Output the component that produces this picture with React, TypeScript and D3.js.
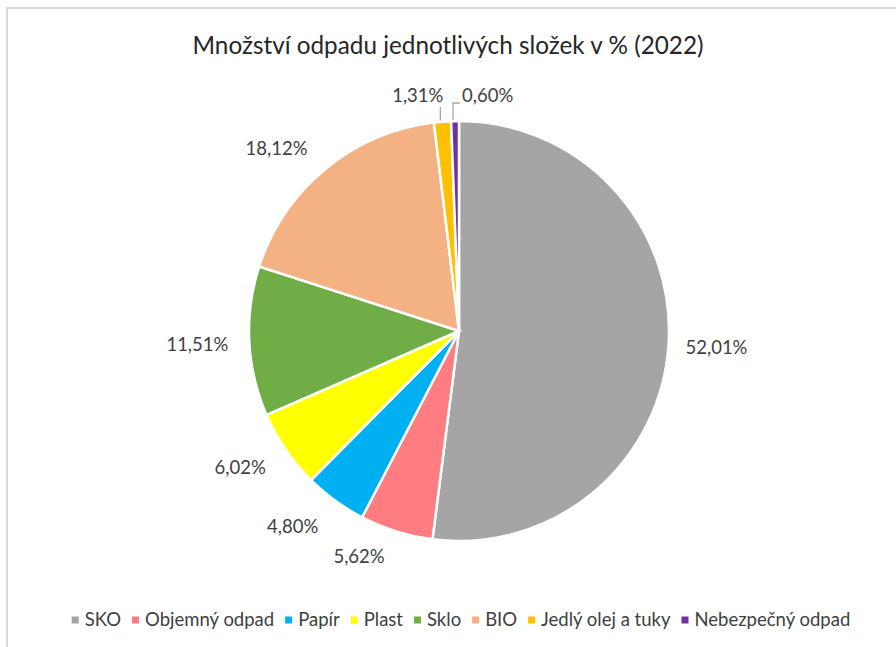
import React, { useEffect, useRef } from 'react';
import * as d3 from 'd3';

const W = 896;
const H = 647;

const categories = ['SKO', 'Objemný odpad', 'Papír', 'Plast', 'Sklo', 'BIO', 'Jedlý olej a tuky', 'Nebezpečný odpad'];
const shares = [52.01, 5.62, 4.8, 6.02, 11.51, 18.12, 1.31, 0.6];
const labels = ['52,01%', '5,62%', '4,80%', '6,02%', '11,51%', '18,12%', '1,31%', '0,60%'];
const colors = ['#a5a5a5', '#ff7c80', '#00b0f0', '#ffff00', '#70ad47', '#f4b183', '#ffc000', '#7030a0'];

// label placement tweaks (degrees shift, distance from centre) to match Excel's layout
const labelShift = [0, 6.5, 4.2, 2.4, -0.2, -5.5, 0, 0];
const labelDist = [258, 247, 257, 258, 262, 258, 0, 0];

const FONT = 'Lato, "Open Sans", sans-serif';

export default function App() {
  const ref = useRef<SVGSVGElement>(null);

  useEffect(() => {
    const svg = d3.select(ref.current);
    svg.selectAll('*').remove();

    // frame
    svg.append('rect')
      .attr('x', 7).attr('y', 8)
      .attr('width', W + 20).attr('height', H + 20)
      .attr('fill', 'white')
      .attr('stroke', '#d9d9d9')
      .attr('stroke-width', 2);

    svg.append('text')
      .attr('x', 448).attr('y', 45)
      .attr('dy', '0.35em')
      .attr('text-anchor', 'middle')
      .attr('font-family', FONT)
      .attr('font-size', 24.3)
      .attr('fill', '#262626')
      .text('Množství odpadu jednotlivých složek v % (2022)');

    const cx = 459, cy = 331, r = 210;
    const data = categories.map((c, i) => ({ c, v: shares[i], i }));
    const pie = d3.pie<any>().sort(null).value(d => d.v);
    const arcs = pie(data);
    const arc = d3.arc<any>().innerRadius(0).outerRadius(r);

    const g = svg.append('g').attr('transform', `translate(${cx},${cy})`);
    g.selectAll('path')
      .data(arcs)
      .enter()
      .append('path')
      .attr('d', arc)
      .attr('fill', d => colors[d.data.i])
      .attr('stroke', 'white')
      .attr('stroke-width', 2.5);

    // labels
    arcs.forEach(a => {
      const i = a.data.i;
      const mid = (a.startAngle + a.endAngle) / 2;
      if (labelDist[i] > 0) {
        const ang = mid + (labelShift[i] * Math.PI) / 180;
        const d = labelDist[i];
        g.append('text')
          .attr('x', Math.sin(ang) * d)
          .attr('y', -Math.cos(ang) * d)
          .attr('dy', '0.35em')
          .attr('text-anchor', 'middle')
          .attr('font-family', FONT)
          .attr('font-size', 18.5)
          .attr('fill', '#404040')
          .text(labels[i]);
      } else {
        // small slices: leader line up to a label above the pie
        const px = Math.sin(mid) * (r + 1);
        const py = -Math.cos(mid) * (r + 1);
        const ly = -235;
        if (i === 6) {
          g.append('line')
            .attr('x1', px - 2).attr('y1', py)
            .attr('x2', px - 2).attr('y2', ly + 11)
            .attr('stroke', '#a6a6a6').attr('stroke-width', 1.3);
          g.append('text')
            .attr('x', px + 1).attr('y', ly)
            .attr('dy', '0.35em')
            .attr('text-anchor', 'end')
            .attr('font-family', FONT).attr('font-size', 18.5)
            .attr('fill', '#404040')
            .text(labels[i]);
        } else {
          g.append('polyline')
            .attr('points', `${px - 2},${py} ${px - 2},${ly + 7} ${px + 5},${ly + 7}`)
            .attr('fill', 'none')
            .attr('stroke', '#a6a6a6').attr('stroke-width', 1.3);
          g.append('text')
            .attr('x', px + 7).attr('y', ly)
            .attr('dy', '0.35em')
            .attr('text-anchor', 'start')
            .attr('font-family', FONT).attr('font-size', 18.5)
            .attr('fill', '#404040')
            .text(labels[i]);
        }
      }
    });

    // legend
    const lg = svg.append('g');
    let x = 0;
    const ly = 620;
    categories.forEach((c, i) => {
      lg.append('rect')
        .attr('x', x).attr('y', ly - 3.5)
        .attr('width', 7).attr('height', 7)
        .attr('fill', colors[i]);
      const t = lg.append('text')
        .attr('x', x + 13).attr('y', ly)
        .attr('dy', '0.35em')
        .attr('font-family', FONT)
        .attr('font-size', 18.5)
        .attr('fill', '#404040')
        .text(c);
      const w = (t.node() as SVGTextElement).getComputedTextLength();
      x += 13 + w + 11;
    });
    const total = x - 11;
    lg.attr('transform', `translate(${461 - total / 2},0)`);
  }, []);

  return (
    <svg
      ref={ref}
      width={W}
      height={H}
      style={{ position: 'absolute', left: 0, top: 0, background: 'white' }}
    />
  );
}
